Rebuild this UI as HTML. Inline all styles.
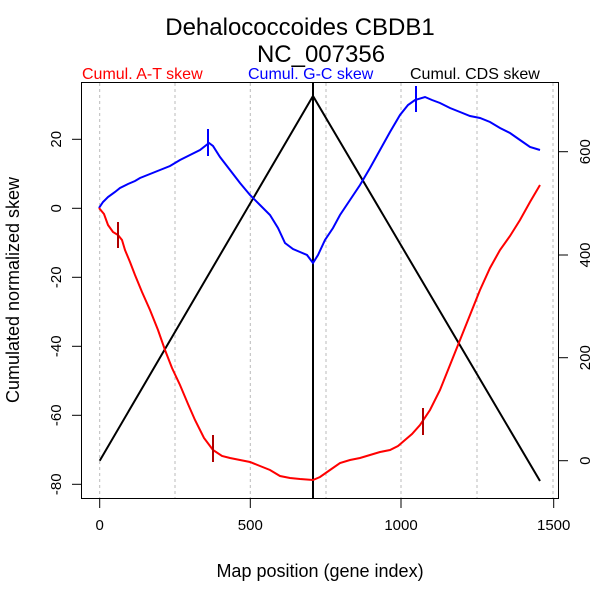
<!DOCTYPE html>
<html><head><style>body{margin:0;background:#fff}</style></head><body>
<svg width="600" height="600" xmlns="http://www.w3.org/2000/svg" font-family="Liberation Sans, sans-serif">
<rect width="600" height="600" fill="#fff"/>
<text x="300" y="35" font-size="24" text-anchor="middle">Dehalococcoides CBDB1</text>
<text x="321" y="62" font-size="24" text-anchor="middle">NC_007356</text>
<text x="82" y="79" font-size="16" fill="#f00">Cumul. A-T skew</text>
<text x="248" y="79" font-size="16" fill="#00f">Cumul. G-C skew</text>
<text x="410" y="79" font-size="16" fill="#000">Cumul. CDS skew</text>
<g stroke="#bbb" stroke-dasharray="3,3" stroke-width="1">
<line x1="99.7" y1="83" x2="99.7" y2="498"/><line x1="175" y1="83" x2="175" y2="498"/>
<line x1="250.3" y1="83" x2="250.3" y2="498"/><line x1="326" y1="83" x2="326" y2="498"/>
<line x1="401" y1="83" x2="401" y2="498"/><line x1="477" y1="83" x2="477" y2="498"/>
<line x1="553" y1="83" x2="553" y2="498"/></g>
<rect x="81.5" y="82.5" width="477" height="416" fill="none" stroke="#000"/>
<g stroke="#000">
<line x1="99.7" y1="498" x2="99.7" y2="508"/><line x1="250.3" y1="498" x2="250.3" y2="508"/>
<line x1="401" y1="498" x2="401" y2="508"/><line x1="553.7" y1="498" x2="553.7" y2="508"/>
<line x1="81.5" y1="139.3" x2="72" y2="139.3"/><line x1="81.5" y1="208.3" x2="72" y2="208.3"/>
<line x1="81.5" y1="277.3" x2="72" y2="277.3"/><line x1="81.5" y1="346.3" x2="72" y2="346.3"/>
<line x1="81.5" y1="415.3" x2="72" y2="415.3"/><line x1="81.5" y1="484.3" x2="72" y2="484.3"/>
<line x1="558.5" y1="151.7" x2="568" y2="151.7"/><line x1="558.5" y1="255" x2="568" y2="255"/>
<line x1="558.5" y1="357.7" x2="568" y2="357.7"/><line x1="558.5" y1="460.7" x2="568" y2="460.7"/>
</g>
<g font-size="15" text-anchor="middle">
<text x="99.7" y="530">0</text><text x="250.3" y="530">500</text><text x="401" y="530">1000</text><text x="553.7" y="530">1500</text>
</g>
<g font-size="15" text-anchor="middle">
<text transform="translate(61,139.3) rotate(-90)">20</text><text transform="translate(61,208.3) rotate(-90)">0</text>
<text transform="translate(61,277.3) rotate(-90)">-20</text><text transform="translate(61,346.3) rotate(-90)">-40</text>
<text transform="translate(61,415.3) rotate(-90)">-60</text><text transform="translate(61,484.3) rotate(-90)">-80</text>
<text transform="translate(590,151.7) rotate(-90)">600</text><text transform="translate(590,255) rotate(-90)">400</text>
<text transform="translate(590,357.7) rotate(-90)">200</text><text transform="translate(590,460.7) rotate(-90)">0</text>
</g>
<text x="320" y="577" font-size="18" text-anchor="middle">Map position (gene index)</text>
<text transform="translate(19,290) rotate(-90)" font-size="18" text-anchor="middle">Cumulated normalized skew</text>
<polyline fill="none" stroke="#000" stroke-width="2" points="99.7,460.7 313,96 540,481"/>
<line x1="313" y1="83" x2="313" y2="498" stroke="#000" stroke-width="2"/>
<polyline fill="none" stroke="#00f" stroke-width="2" points="99,208 103,202 108,197 115,192 120,188 128,184 135,181 140,178 150,174 160,170 170,166 180,160 190,155 200,150 209,143 213,146 220,157 230,170 240,183 250,195 260,205 270,215 278,228 285,243 293,249 300,252 307,255 313,263 318,255 325,240 333,228 340,215 350,200 360,185 370,168 380,150 390,132 400,115 408,105 415,100 425,97 432,100 440,103 450,108 460,112 470,116 480,118 490,122 500,128 510,133 520,140 530,147 540,150"/>
<polyline fill="none" stroke="#f00" stroke-width="2" points="99,208 104,214 108,225 113,232 118,235 122,240 125,250 130,262 135,275 142,292 150,310 158,330 165,350 172,368 180,385 188,404 195,420 204,438 213,450 222,456 230,458 240,460 250,462 260,466 270,470 280,476 290,478 300,479 313,480 320,477 330,470 340,463 350,460 360,458 370,455 380,452 390,450 398,446 405,440 412,434 420,425 430,410 440,390 450,365 460,340 470,315 480,290 490,268 500,250 510,236 520,220 530,202 540,185"/>
<g stroke-width="2">
<line x1="208" y1="129" x2="208" y2="156" stroke="#00f"/>
<line x1="416" y1="86" x2="416" y2="112" stroke="#00f"/>
<line x1="118" y1="222" x2="118" y2="248" stroke="#b00000"/>
<line x1="213" y1="435" x2="213" y2="462" stroke="#b00000"/>
<line x1="423" y1="408" x2="423" y2="435" stroke="#b00000"/>
</g>
</svg>
</body></html>
